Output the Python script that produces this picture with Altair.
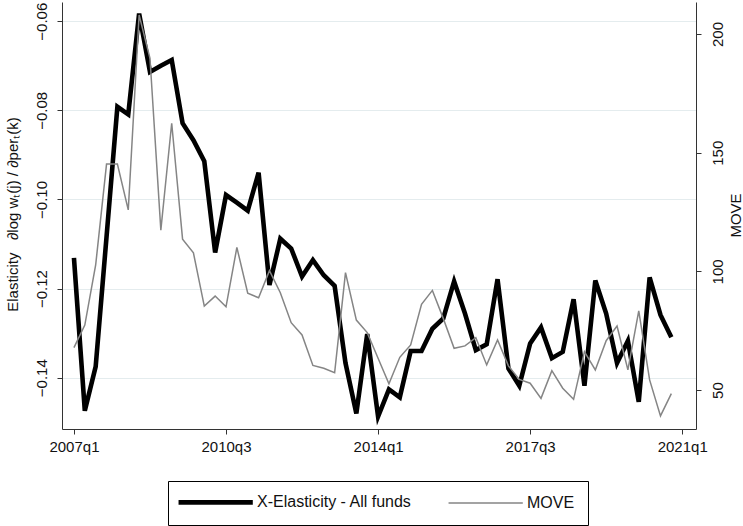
import altair as alt
import pandas as pd

# Quarterly periods covered by both series
quarters = [f"{y}q{q}" for y in range(2007, 2021) for q in range(1, 5)]

# Cross-elasticity estimate for all funds (left axis)
elasticity = [
    -0.1131, -0.1474, -0.1375, -0.1084, -0.0792, -0.0809, -0.0583, -0.0714,
    -0.0700, -0.0687, -0.0829, -0.0867, -0.0914, -0.1119, -0.0990, -0.1007,
    -0.1025, -0.0940, -0.1192, -0.1088, -0.1110, -0.1173, -0.1136, -0.1170,
    -0.1194, -0.1367, -0.1480, -0.1302, -0.1487, -0.1426, -0.1444, -0.1340,
    -0.1340, -0.1290, -0.1267, -0.1184, -0.1256, -0.1338, -0.1325, -0.1179,
    -0.1379, -0.1418, -0.1323, -0.1287, -0.1356, -0.1342, -0.1224, -0.1418,
    -0.1182, -0.1256, -0.1367, -0.1317, -0.1454, -0.1175, -0.1259, -0.1309,
]

# MOVE index (right axis)
move = [
    67.9, 77.4, 102.7, 145.2, 145.2, 125.9, 208.0, 189.8,
    117.4, 162.4, 113.6, 107.8, 85.4, 89.6, 85.1, 110.1,
    90.8, 88.9, 100.3, 91.0, 78.4, 73.2, 60.4, 59.2,
    57.3, 99.5, 79.5, 74.2, 63.4, 52.6, 63.8, 69.0,
    86.1, 92.0, 80.2, 67.6, 68.6, 72.1, 60.6, 71.1,
    60.2, 54.5, 52.9, 46.5, 58.2, 50.8, 46.1, 66.2,
    58.5, 70.8, 77.0, 58.5, 83.4, 54.3, 39.1, 48.5,
]

tick_quarters = ["2007q1", "2010q3", "2014q1", "2017q3", "2021q1"]
left_ticks = [-0.14, -0.12, -0.10, -0.08, -0.06]
right_ticks = [50, 100, 150, 200]

ELAS = "X-Elasticity - All funds"
MOVE = "MOVE"
FONT = "Liberation Sans"
NBSP = "\u00a0"


def qindex(label):
    year, q = label.split("q")
    return (int(year) - 2007) * 4 + int(q) - 1


df = pd.DataFrame({
    "quarter": quarters,
    "t": [qindex(q) for q in quarters],
    "elasticity": elasticity,
    "move": move,
})

x_enc = alt.X(
    "t:Q",
    scale=alt.Scale(domain=[-1.1, 57.27], nice=False, zero=False),
    axis=alt.Axis(
        values=[qindex(q) for q in tick_quarters],
        labelExpr="toString(2007 + floor(datum.value / 4)) + 'q' + toString(datum.value % 4 + 1)",
        title=None, grid=False, tickSize=5, labelPadding=5,
    ),
)

series_color = alt.Color(
    "series:N",
    scale=alt.Scale(domain=[ELAS, MOVE], range=["#000000", "#858585"]),
    legend=alt.Legend(title=None),
)
series_width = alt.StrokeWidth(
    "series:N",
    scale=alt.Scale(domain=[ELAS, MOVE], range=[4.6, 1.5]),
    legend=alt.Legend(title=None),
)

base = alt.Chart(df)

left_title = f"Elasticity{NBSP}{NBSP}{NBSP}\u2202log w\u209c(j) / \u2202per\u209c(k)"

elas_line = base.transform_calculate(series=f"'{ELAS}'").mark_line(strokeJoin="miter").encode(
    x=x_enc,
    y=alt.Y(
        "elasticity:Q",
        scale=alt.Scale(domain=[-0.1515, -0.0557], nice=False, zero=False),
        axis=alt.Axis(
            orient="left", values=left_ticks, format=".2f",
            labelAngle=270, labelAlign="center", labelBaseline="bottom",
            labelPadding=8, tickSize=5, grid=True,
            title=left_title,
            titleAngle=270, titleAlign="center", titleBaseline="alphabetic",
            titleX=-45, titleY=212,
        ),
    ),
    color=series_color,
    strokeWidth=series_width,
    order="t:Q",
)

move_line = base.transform_calculate(series=f"'{MOVE}'").mark_line().encode(
    x=x_enc,
    y=alt.Y(
        "move:Q",
        scale=alt.Scale(domain=[33.6, 213.5], nice=False, zero=False),
        axis=alt.Axis(
            orient="right", values=right_ticks,
            labelAngle=270, labelAlign="center", labelBaseline="top",
            labelPadding=9, tickSize=5, grid=False,
            title="MOVE", titleAngle=270, titleAlign="center", titleBaseline="bottom",
            titleX=47, titleY=213,
        ),
    ),
    color=series_color,
    strokeWidth=series_width,
    order="t:Q",
)

chart = (
    alt.layer(elas_line, move_line)
    .resolve_scale(y="independent")
    .properties(
        width=634, height=427,
        autosize=alt.AutoSizeParams(type="none"),
        padding={"left": 62, "top": 2, "right": 47, "bottom": 97},
        background="white",
    )
    .configure_view(stroke=None)
    .configure_axis(
        labelFont=FONT, titleFont=FONT, labelFontSize=15, titleFontSize=15,
        labelColor="#111111", titleColor="#111111", titleFontWeight="normal",
        domainColor="#333333", tickColor="#333333", domainWidth=1, tickWidth=1,
        gridColor="#e4ecee", gridWidth=1,
    )
    .configure_legend(
        orient="none", legendX=106, legendY=479, direction="horizontal",
        symbolType="M-1.9,0H11.6", symbolSize=121, labelFont=FONT, labelFontSize=16,
        labelColor="#111111", labelOffset=60, columnPadding=33,
        strokeColor="#000000", fillColor="#ffffff", padding=13,
        symbolStrokeWidth=4.6,
    )
)

chart.save("out.html", embed_options={"renderer": "svg", "actions": False})
